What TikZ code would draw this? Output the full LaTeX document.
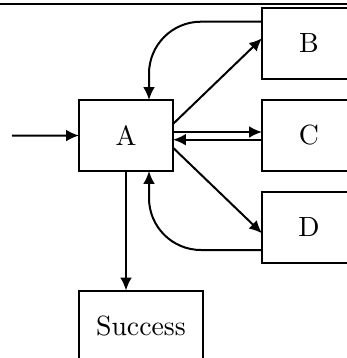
\documentclass[tikz,border=0pt]{standalone}
\usetikzlibrary{arrows.meta,calc}
\begin{document}
\begin{tikzpicture}[x=0.36pt,y=-0.36pt,
  box/.style={draw, line width=0.72pt, minimum width=33.84pt, minimum height=25.56pt, inner sep=0pt, outer sep=0pt},
  conn/.style={line width=0.72pt, -{Latex[length=4.6pt,width=4.2pt]}},
  loop/.style={conn, rounded corners=18.7pt},
]
\useasboundingbox (0,0) rectangle (347,358);
\clip (0,0) rectangle (347,358);
\draw[line width=0.6pt] (0,3.8) -- (347,3.8);
\node[box] (A) at (126,135.5) {A};
\node[box] (B) at (309,43.5) {B};
\node[box] (C) at (309,135.5) {C};
\node[box] (D) at (309,227) {D};
\node[box, minimum width=44.64pt] (S) at (141,326) {Success};
\coordinate (in) at (12,135.7);
\draw[conn] (in) -- (A.west);
\draw[conn] ($(A.east)+(0,-11.5)$) -- ($(B.west)+(0,-5.2)$);
\draw[conn] ($(A.east)+(0,-3.5)$) -- ($(C.west)+(0,-3.5)$);
\draw[conn] ($(C.west)+(0,4.2)$) -- ($(A.east)+(0,4.2)$);
\draw[conn] ($(A.east)+(0,12.2)$) -- ($(D.west)+(0,6.3)$);
\draw[conn] (A.south) -- (A.south |- S.north);
\draw[loop] ($(B.west)+(0,-21.8)$) -| ($(A.north)+(23,0)$);
\draw[loop] ($(D.west)+(0,23)$) -| ($(A.south)+(23,0)$);
\end{tikzpicture}
\end{document}
